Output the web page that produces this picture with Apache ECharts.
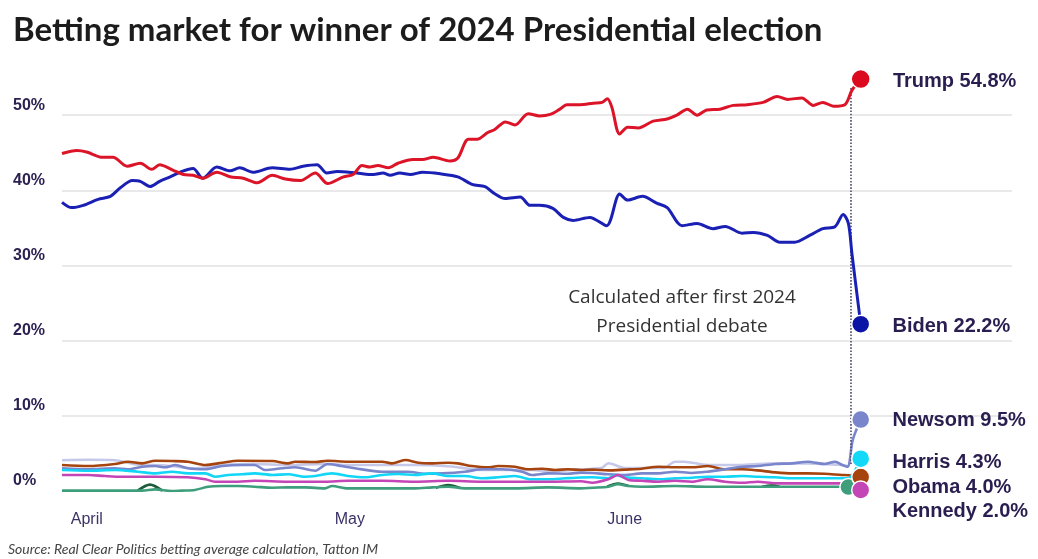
<!DOCTYPE html>
<html><head><meta charset="utf-8">
<script src="https://cdn.jsdelivr.net/npm/echarts@6/dist/echarts.min.js"></script>
<style>html,body{margin:0;padding:0;background:#fff}#c{width:1038px;height:559px}</style>
</head><body><div id="c"></div>
<script>
// x values: days since 31 March 2024; y values: % implied probability
const monthLabels = ['April', 'May', 'June'];
const candidates = ['Trump', 'Biden', 'Newsom', 'Harris', 'Obama', 'Kennedy'];
const finalShares = [54.8, 22.2, 9.5, 4.3, 4.0, 2.0];
const debateDay = 89.7;

const trump = [[0,44.9],[1.7,45.3],[2.8,45.1],[4.6,44.4],[5.8,44.4],[7.4,43.2],[8.9,43.6],[10.2,42.8],[11.1,43.4],[12.6,42.7],[13.8,42.1],[14.9,42.0],[16.0,41.6],[17.6,42.4],[19.1,41.8],[20.6,41.6],[22.2,41.0],[23.9,42.0],[25.4,41.5],[27.1,41.3],[28.8,42.3],[30.2,40.9],[32.0,41.8],[33.1,42.1],[34.1,43.3],[35.0,43.1],[35.9,43.3],[37.1,43.0],[38.2,43.6],[39.9,44.1],[41.0,44.1],[42.2,44.4],[44.1,43.9],[45.0,44.3],[46.2,46.8],[47.2,46.8],[48.4,47.7],[49.2,48.1],[50.4,49.1],[51.5,48.7],[53.0,50.2],[54.3,49.9],[55.5,50.1],[56.6,50.8],[57.4,51.4],[58.9,51.4],[60.4,51.6],[61.4,51.7],[62.0,52.2],[62.5,51.1],[63.4,47.5],[64.3,48.4],[65.5,48.3],[67.2,49.2],[68.8,49.5],[69.9,50.0],[71.1,50.8],[72.2,50.0],[73.3,50.7],[74.8,50.8],[76.3,51.3],[77.9,51.4],[79.7,51.7],[81.3,52.5],[82.5,52.1],[84.1,52.3],[85.4,51.3],[86.5,51.7],[87.7,51.2],[89.0,51.4],[89.8,53.3],[90.8,54.8]];

const biden = [[0,38.4],[1.1,37.7],[2.4,38.0],[4.1,38.8],[5.5,39.2],[6.6,40.3],[8.0,41.3],[8.9,41.2],[10.0,40.5],[11.1,41.2],[12.3,41.8],[13.4,42.4],[14.9,42.9],[16.0,41.6],[17.6,43.1],[19.1,42.6],[20.2,43.0],[21.7,42.4],[23.9,43.0],[25.9,42.8],[27.4,43.2],[29.0,43.4],[30.1,42.3],[31.3,42.5],[33.5,42.3],[35.4,42.1],[36.5,42.3],[37.3,42.0],[38.4,42.3],[39.6,42.1],[41.0,42.4],[43.0,42.2],[45.0,41.8],[46.6,40.8],[48.1,40.5],[49.0,39.7],[50.4,38.9],[52.1,39.1],[53.2,38.0],[54.3,38.0],[55.8,37.6],[57.0,36.4],[58.1,36.0],[60.0,36.4],[61.9,35.3],[63.4,39.5],[64.3,38.7],[66.0,39.2],[67.6,38.3],[68.8,37.7],[70.5,35.3],[72.2,35.6],[74.0,34.9],[75.4,35.2],[77.3,34.3],[78.6,34.4],[80.2,34.0],[81.6,33.1],[83.3,33.1],[85.0,34.0],[86.5,34.9],[87.9,35.2],[88.8,36.8],[89.4,35.6],[89.8,31.6],[90.8,22.2]];

const newsom = [[0,3.02],[3.0,2.89],[6.0,3.02],[7.5,2.89],[9.1,3.23],[10.6,3.32],[11.7,3.15],[12.9,3.46],[14.3,3.02],[16.3,2.89],[18.2,3.32],[20.5,3.46],[21.9,3.46],[23.1,2.79],[25.0,3.02],[26.5,3.15],[28.8,2.7],[30.2,3.59],[31.8,3.32],[33.3,3.02],[36.4,2.57],[39.3,2.57],[41.3,2.3],[43.2,2.35],[45.8,2.57],[47.8,2.89],[50.0,2.89],[52.3,2.57],[53.4,2.13],[55.3,2.35],[57.5,2.3],[59.0,2.45],[60.3,2.4],[62.1,2.22],[64.0,2.13],[65.9,2.35],[67.8,2.35],[69.7,2.57],[71.6,2.4],[73.4,2.57],[75.4,2.89],[77.3,3.23],[79.1,3.32],[81.1,3.59],[83.0,3.68],[84.8,3.9],[86.7,3.59],[87.9,3.9],[88.7,3.46],[89.3,3.23],[89.9,6.8],[90.8,9.5]];

const others = [[0,4.1],[3.0,4.15],[6.0,4.1],[8.6,3.5],[11.7,3.4],[15.1,3.0],[18.2,3.46],[21.9,3.6],[25.7,3.46],[29.9,3.6],[32.5,3.46],[36.4,3.46],[40.1,3.46],[43.9,3.3],[47.8,2.8],[53.4,2.8],[55.3,2.6],[58.5,2.85],[61.4,3.1],[62.1,3.7],[64.0,3.06],[68.4,3.06],[69.7,3.9],[70.7,3.9],[73.4,3.46],[77.3,3.46],[81.1,3.68],[84.8,3.68],[88.7,3.46],[89.4,3.3]];

const brown = [[0,3.46],[3.0,3.32],[6.0,3.59],[7.5,3.9],[9.1,3.68],[10.6,4.03],[12.5,3.99],[14.3,3.9],[16.3,3.46],[18.2,3.76],[20.0,4.03],[23.9,3.99],[25.7,3.68],[26.5,3.9],[28.8,3.85],[30.2,4.03],[32.5,3.9],[36.4,3.9],[37.5,3.68],[39.0,4.12],[40.5,3.76],[42.1,3.68],[43.9,3.76],[45.0,3.68],[46.6,3.32],[48.4,3.15],[49.6,3.32],[51.5,3.23],[53.0,2.89],[54.6,2.97],[56.1,2.79],[57.5,2.89],[59.0,2.79],[60.3,2.85],[62.1,2.74],[64.0,2.85],[65.9,2.97],[67.8,3.23],[69.7,3.15],[71.6,3.15],[73.4,3.32],[75.4,2.89],[77.3,2.89],[79.1,2.74],[81.1,2.48],[83.0,2.35],[84.8,2.35],[86.7,2.3],[88.7,2.13],[89.4,2.1],[90.8,1.86]];

const harris = [[0,2.79],[3.0,2.7],[6.0,2.79],[8.6,2.57],[10.6,2.35],[12.5,2.57],[14.3,2.35],[16.3,2.35],[17.4,1.9],[18.9,2.13],[20.5,2.22],[21.9,2.35],[23.9,2.13],[25.7,2.22],[27.6,1.9],[28.8,1.99],[30.7,2.35],[32.5,1.99],[34.5,1.82],[36.4,2.13],[38.2,2.26],[40.1,2.13],[42.1,2.35],[43.9,1.99],[45.8,1.99],[47.8,1.69],[49.6,1.82],[51.5,1.99],[53.4,1.56],[55.3,1.56],[57.2,1.69],[59.0,1.8],[60.3,1.82],[62.1,1.69],[62.9,2.13],[64.0,1.82],[65.9,1.69],[67.8,1.56],[69.7,1.69],[71.6,1.77],[73.4,1.9],[75.4,1.9],[77.3,1.99],[79.1,1.9],[81.1,1.82],[83.0,1.69],[84.8,1.69],[86.7,1.69],[88.7,1.69],[89.4,1.7],[90.8,4.3]];

const magenta = [[0,2.13],[3.0,2.13],[4.9,1.99],[6.8,1.9],[10.6,1.9],[14.3,1.82],[16.3,1.56],[17.4,1.24],[20.0,1.24],[21.9,1.37],[25.7,1.24],[29.9,1.24],[32.5,1.37],[36.4,1.37],[40.1,1.24],[43.9,1.37],[47.8,1.24],[51.5,1.24],[55.3,1.24],[59.0,1.3],[60.3,1.1],[62.1,1.56],[63.2,2.13],[64.4,1.46],[65.9,1.37],[67.8,1.24],[69.7,1.37],[71.6,1.24],[73.4,1.56],[75.4,1.24],[77.3,1.1],[79.1,1.24],[81.1,1.02],[83.0,1.02],[84.8,1.02],[86.7,1.02],[88.7,1.02],[89.4,1.0],[90.8,0.13]];

const green = [[0,0.05],[3.0,0.05],[6.8,0.05],[9.1,0.05],[10.6,0.22],[12.5,0.0],[13.6,0.05],[15.1,0.13],[16.6,0.57],[18.2,0.66],[20.0,0.66],[21.9,0.57],[23.9,0.44],[25.7,0.48],[27.6,0.48],[29.9,0.35],[30.7,0.66],[32.5,0.35],[36.4,0.35],[40.1,0.35],[42.1,0.48],[43.9,0.57],[45.8,0.35],[47.8,0.35],[51.5,0.35],[55.3,0.48],[59.0,0.35],[60.3,0.44],[62.1,0.57],[63.2,0.89],[64.4,0.66],[65.9,0.57],[69.7,0.66],[73.4,0.57],[77.3,0.57],[81.1,0.57],[84.8,0.57],[88.2,0.57],[89.4,0.53]];

const darkGreen = [[8.6,0.05],[10.0,0.85],[11.4,0.05],[11.5,null],[42.5,0.42],[43.9,0.8],[45.3,0.38],[45.4,null],[62.0,0.6],[63.2,1.0],[64.4,0.66],[64.5,null],[79.6,0.57],[80.6,0.72],[81.6,0.57]];

const BASE = new Date(2024, 2, 31).getTime();
const DAY = 86400000;
const toTime = d => BASE + d * DAY;
const pts = arr => arr.map(([d, v]) => [toTime(d), v]);
const last = arr => { const p = arr[arr.length - 1]; return [toTime(p[0]), p[1]]; };

const lineDefs = [
  { data: others, color: '#c5c8e8', w: 2.6 },
  { data: brown, color: '#a6440f', w: 2.6 },
  { data: newsom, color: '#7a86cc', w: 2.6 },
  { data: harris, color: '#12d6f6', w: 2.6 },
  { data: magenta, color: '#c445b6', w: 2.6 },
  { data: darkGreen, color: '#1d5c3a', w: 2.6 },
  { data: green, color: '#3e9e7b', w: 2.6 },
  { data: biden, color: '#1b20b4', w: 3 },
  { data: trump, color: '#dc1428', w: 3 }
];

const series = lineDefs.map((s, i) => ({
  type: 'line', data: pts(s.data), smooth: 0.3, symbol: 'none', z: 2 + i,
  connectNulls: false,
  lineStyle: { color: s.color, width: s.w }, silent: true
}));

series[series.length - 1].markLine = {
  silent: true, symbol: ['none', 'none'], label: { show: false },
  lineStyle: { type: 'dotted', color: '#4f4a68', width: 1.6, opacity: 1 },
  data: [[{ coord: [toTime(debateDay), 53.6] }, { coord: [toTime(debateDay), 3.6] }]]
};

const labelStyle = { show: true, position: 'right', distance: 22, fontFamily: 'Liberation Sans, Arial, sans-serif', fontWeight: 'bold', fontSize: 20, color: '#2a1d4f', opacity: 1 };
const lbl = (i, dy) => Object.assign({}, labelStyle, { formatter: candidates[i] + ' ' + finalShares[i].toFixed(1) + '%', offset: [0, dy] });

const markerData = [
  { value: last(green), symbolSize: 17, itemStyle: { color: '#3e9e7b' } },
  { value: last(brown), symbolSize: 18, itemStyle: { color: '#a6440f' }, label: lbl(4, 10) },
  { value: last(harris), symbolSize: 18, itemStyle: { color: '#12d9f8' }, label: lbl(3, 4) },
  { value: last(magenta), symbolSize: 18, itemStyle: { color: '#c445b6' }, label: lbl(5, 21) },
  { value: last(newsom), symbolSize: 18, itemStyle: { color: '#7a86cc' }, label: lbl(2, 1) },
  { value: last(biden), symbolSize: 18, itemStyle: { color: '#0c14a6' }, label: lbl(1, 2) },
  { value: last(trump), symbolSize: 19, itemStyle: { color: '#dc0a1e' }, label: lbl(0, 2) }
];

series.push({
  type: 'scatter', data: markerData, z: 20, silent: true,
  itemStyle: { borderColor: '#ffffff', borderWidth: 1.5, opacity: 1 }
});

const chart = echarts.init(document.getElementById('c'));
chart.setOption({
  animation: false,
  backgroundColor: '#ffffff',
  title: {
    text: 'Betting market for winner of 2024 Presidential election',
    left: 8, top: 9,
    textStyle: { fontFamily: 'Lato, sans-serif', fontWeight: 'bold', fontSize: 33, color: '#1c1c1c' }
  },
  grid: { left: 62, right: 26, top: 40, bottom: 68 },
  xAxis: {
    type: 'time', min: toTime(0), max: toTime(108), splitNumber: 3,
    axisLine: { show: false }, axisTick: { show: false }, splitLine: { show: false },
    axisLabel: {
      margin: 21, align: 'left', fontFamily: 'Liberation Sans, Arial, sans-serif', fontSize: 16, color: '#3b3366',
      showMinLabel: false, showMaxLabel: false, hideOverlap: false,
      formatter: (val) => { const dt = new Date(val); if (dt.getDate() !== 1) return ''; return monthLabels[dt.getMonth() - 3] || ''; }
    }
  },
  yAxis: {
    type: 'value', min: 0, max: 60, interval: 10,
    axisLine: { show: false }, axisTick: { show: false },
    splitLine: { show: true, showMinLine: false, showMaxLine: false, lineStyle: { color: '#e2e2e2', width: 1.5 } },
    axisLabel: {
      margin: 49, align: 'left', verticalAlign: 'bottom', lineHeight: 16, padding: [0, 0, 2, 0],
      fontFamily: 'Liberation Sans, Arial, sans-serif', fontWeight: 'bold', fontSize: 16, color: '#2b2152',
      formatter: (v) => v >= 60 ? '' : v + '%'
    }
  },
  graphic: [
    {
      type: 'text',
      style: { text: 'Calculated after first 2024\nPresidential debate', x: 682, y: 312, textAlign: 'center', textVerticalAlign: 'middle', font: '19px "Open Sans", sans-serif', lineHeight: 29, fill: '#333333' }
    },
    {
      type: 'text',
      style: { text: 'Source: Real Clear Politics betting average calculation, Tatton IM', x: 8, y: 549, textVerticalAlign: 'middle', font: 'italic 14px Lato, sans-serif', fill: '#444444' }
    }
  ],
  series: series
});
</script></body></html>
